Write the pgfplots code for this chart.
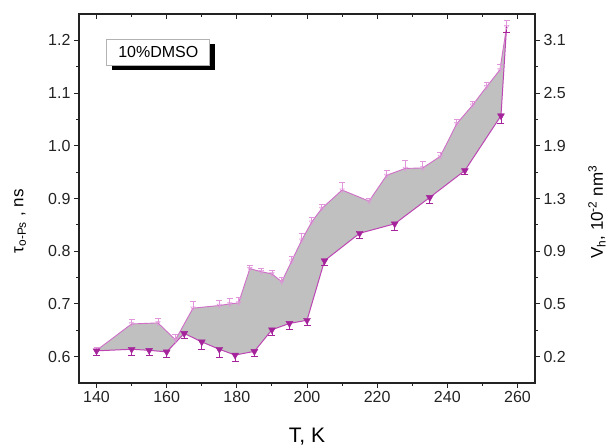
\documentclass[border=0pt]{standalone}
\usepackage{fontspec}
\setmainfont{Liberation Sans}
\usepackage{pgfplots}
\pgfplotsset{compat=1.18}
\usepgfplotslibrary{fillbetween}
\usetikzlibrary{shadows}

\definecolor{upline}{RGB}{208,110,200}
\definecolor{upmark}{RGB}{225,150,220}
\definecolor{lowline}{RGB}{190,70,180}
\definecolor{lowmark}{RGB}{165,35,155}
\definecolor{band}{RGB}{192,192,192}
\definecolor{axcol}{RGB}{35,35,35}

% upper branch: T, tau, error
\pgfplotstableread{
T     tau    e
140   0.612  0.006
150   0.662  0.008
157.5 0.664  0.008
162.5 0.632  0.010
167.5 0.692  0.012
175   0.697  0.010
178   0.700  0.010
180.5 0.702  0.010
183.7 0.767  0.006
187   0.761  0.006
190   0.757  0.006
192.8 0.742  0.008
195.6 0.781  0.010
198.5 0.821  0.012
201.3 0.855  0.010
204.2 0.881  0.008
210   0.916  0.014
217.7 0.895  0.006
222.7 0.944  0.010
228   0.957  0.016
233   0.958  0.012
238   0.980  0.008
242.7 1.042  0.008
247.2 1.077  0.008
251.2 1.112  0.008
255   1.144  0.010
256.9 1.226  0.012
}\uptab

% lower branch: T, tau, error
\pgfplotstableread{
T     tau    e
140   0.611  0.008
150   0.614  0.012
155   0.612  0.010
160   0.609  0.010
165   0.644  0.010
170   0.628  0.014
175   0.614  0.016
179.5 0.603  0.012
185   0.610  0.010
190   0.651  0.010
195   0.663  0.012
200   0.669  0.010
205   0.782  0.008
215   0.834  0.010
225   0.852  0.012
235   0.902  0.012
245   0.953  0.008
255.3 1.057  0.014
256.9 1.226  0.010
}\lowtab

\pgfplotsset{
  base/.style={
    scale only axis, width=456pt, height=369pt,
    xmin=135, xmax=265, ymin=0.55, ymax=1.25,
    axis line style={axcol, line width=1.1pt},
    every tick/.style={axcol, line width=1pt},
    major tick length=5pt, minor tick length=3pt,
    xtick={140,160,180,200,220,240,260}, minor x tick num=1,
    ytick={0.6,0.7,0.8,0.9,1.0,1.1,1.2}, minor y tick num=1,
    ticklabel style={font=\fontsize{16}{19}\selectfont, text=axcol},
    /pgf/number format/assume math mode=true,
  }
}

\begin{document}
\begin{tikzpicture}
% main axis: temperature vs lifetime
\begin{axis}[base,
  tick align=outside, xtick pos=lower, ytick pos=left,
  yticklabels={0.6,0.7,0.8,0.9,1.0,1.1,1.2},
  xlabel={T, K},
  xlabel style={font=\fontsize{21}{24}\selectfont, at={(axis description cs:0.5,-0.1626)}, anchor=base},
  ylabel={τ\textsubscript{o-Ps} , ns},
  ylabel style={font=\fontsize{17}{20}\selectfont, at={(axis description cs:-0.129,0.438)}, anchor=center},
  clip=false,
]
\addplot[draw=none, name path=up] table[x=T, y=tau] {\uptab};
\addplot[draw=none, name path=lo] table[x=T, y=tau] {\lowtab};
\addplot[band, draw=none] fill between[of=up and lo];

\addplot[upline, line width=0.9pt, mark=triangle, mark size=2.6pt,
  mark options={rotate=180, upmark, line width=0.5pt},
  error bars/.cd, y dir=plus, y explicit,
  error bar style={upmark, line width=0.7pt},
  error mark options={upmark, mark size=3pt, line width=0.7pt, rotate=90}]
  table[x=T, y=tau, y error=e] {\uptab};

\addplot[lowline, line width=1pt, mark=triangle*, mark size=4pt,
  mark indices={1,...,18},
  mark options={rotate=180, fill=lowmark, draw=lowmark, line width=0.4pt},
  error bars/.cd, y dir=minus, y explicit,
  error bar style={lowmark, line width=0.8pt},
  error mark options={lowmark, mark size=3.5pt, line width=0.8pt, rotate=90}]
  table[x=T, y=tau, y error=e] {\lowtab};

\node[draw=gray!60, line width=0.7pt, fill=white, minimum width=103pt,
  minimum height=26pt, inner sep=0pt, font=\fontsize{16}{19}\selectfont,
  drop shadow={shadow xshift=5pt, shadow yshift=-5.5pt, fill=black, opacity=1}]
  at (axis cs:157.6,1.178) {10\%DMSO};
\end{axis}

% free-volume scale on the right
\begin{axis}[base,
  axis x line=none, axis y line*=right,
  tick align=outside, ytick pos=right,
  yticklabels={0.2,0.5,0.9,1.3,1.9,2.5,3.1},
  ylabel={V\textsubscript{h}, 10\textsuperscript{-2} nm\textsuperscript{3}},
  ylabel style={font=\fontsize{17}{20}\selectfont, at={(axis description cs:1.136,0.463)}, anchor=center},
]
\end{axis}

% inward ticks along the top edge
\begin{axis}[base,
  tick align=inside, xtick pos=upper, ytick=\empty,
  xticklabels=\empty,
]
\end{axis}

\pgfresetboundingbox
\useasboundingbox (-79pt,-63pt) rectangle (534pt,383pt);
\end{tikzpicture}
\end{document}
